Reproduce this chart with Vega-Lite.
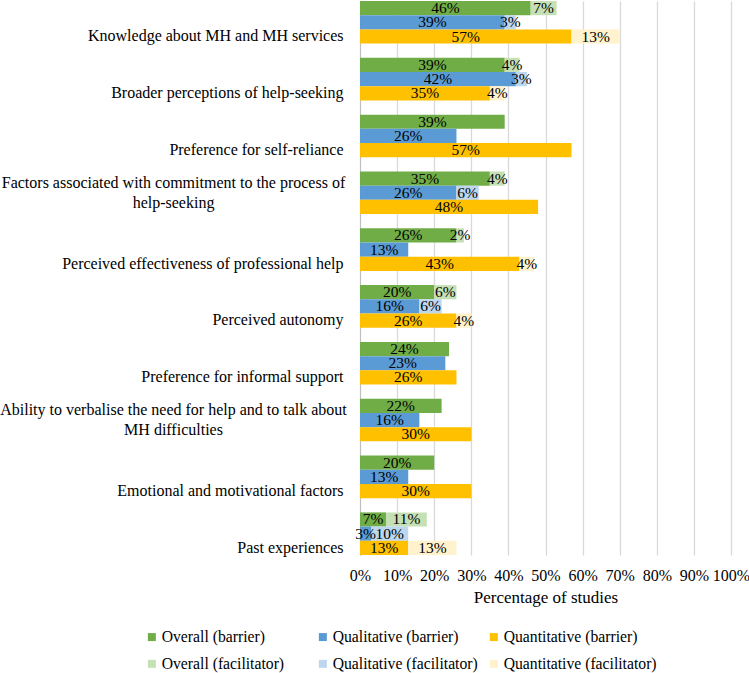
{
  "$schema": "https://vega.github.io/schema/vega-lite/v6.json",
  "width": 371,
  "height": 554,
  "autosize": {"type": "none"},
  "padding": {"left": 360, "top": 1, "right": 18, "bottom": 118},
  "background": "white",
  "config": {"view": {"stroke": null}},
  "data": {
    "values": [
      {"cat": "Knowledge about MH and MH services", "series": "Overall", "type": "barrier", "key": "Overall (barrier)", "value": 46},
      {"cat": "Knowledge about MH and MH services", "series": "Overall", "type": "facilitator", "key": "Overall (facilitator)", "value": 7},
      {"cat": "Knowledge about MH and MH services", "series": "Qualitative", "type": "barrier", "key": "Qualitative (barrier)", "value": 39},
      {"cat": "Knowledge about MH and MH services", "series": "Qualitative", "type": "facilitator", "key": "Qualitative (facilitator)", "value": 3},
      {"cat": "Knowledge about MH and MH services", "series": "Quantitative", "type": "barrier", "key": "Quantitative (barrier)", "value": 57},
      {"cat": "Knowledge about MH and MH services", "series": "Quantitative", "type": "facilitator", "key": "Quantitative (facilitator)", "value": 13},

      {"cat": "Broader perceptions of help-seeking", "series": "Overall", "type": "barrier", "key": "Overall (barrier)", "value": 39},
      {"cat": "Broader perceptions of help-seeking", "series": "Overall", "type": "facilitator", "key": "Overall (facilitator)", "value": 4},
      {"cat": "Broader perceptions of help-seeking", "series": "Qualitative", "type": "barrier", "key": "Qualitative (barrier)", "value": 42},
      {"cat": "Broader perceptions of help-seeking", "series": "Qualitative", "type": "facilitator", "key": "Qualitative (facilitator)", "value": 3},
      {"cat": "Broader perceptions of help-seeking", "series": "Quantitative", "type": "barrier", "key": "Quantitative (barrier)", "value": 35},
      {"cat": "Broader perceptions of help-seeking", "series": "Quantitative", "type": "facilitator", "key": "Quantitative (facilitator)", "value": 4},

      {"cat": "Preference for self-reliance", "series": "Overall", "type": "barrier", "key": "Overall (barrier)", "value": 39},
      {"cat": "Preference for self-reliance", "series": "Qualitative", "type": "barrier", "key": "Qualitative (barrier)", "value": 26},
      {"cat": "Preference for self-reliance", "series": "Quantitative", "type": "barrier", "key": "Quantitative (barrier)", "value": 57},

      {"cat": "Factors associated with commitment to the process of help-seeking", "series": "Overall", "type": "barrier", "key": "Overall (barrier)", "value": 35},
      {"cat": "Factors associated with commitment to the process of help-seeking", "series": "Overall", "type": "facilitator", "key": "Overall (facilitator)", "value": 4},
      {"cat": "Factors associated with commitment to the process of help-seeking", "series": "Qualitative", "type": "barrier", "key": "Qualitative (barrier)", "value": 26},
      {"cat": "Factors associated with commitment to the process of help-seeking", "series": "Qualitative", "type": "facilitator", "key": "Qualitative (facilitator)", "value": 6},
      {"cat": "Factors associated with commitment to the process of help-seeking", "series": "Quantitative", "type": "barrier", "key": "Quantitative (barrier)", "value": 48},

      {"cat": "Perceived effectiveness of professional help", "series": "Overall", "type": "barrier", "key": "Overall (barrier)", "value": 26},
      {"cat": "Perceived effectiveness of professional help", "series": "Overall", "type": "facilitator", "key": "Overall (facilitator)", "value": 2},
      {"cat": "Perceived effectiveness of professional help", "series": "Qualitative", "type": "barrier", "key": "Qualitative (barrier)", "value": 13},
      {"cat": "Perceived effectiveness of professional help", "series": "Quantitative", "type": "barrier", "key": "Quantitative (barrier)", "value": 43},
      {"cat": "Perceived effectiveness of professional help", "series": "Quantitative", "type": "facilitator", "key": "Quantitative (facilitator)", "value": 4},

      {"cat": "Perceived autonomy", "series": "Overall", "type": "barrier", "key": "Overall (barrier)", "value": 20},
      {"cat": "Perceived autonomy", "series": "Overall", "type": "facilitator", "key": "Overall (facilitator)", "value": 6},
      {"cat": "Perceived autonomy", "series": "Qualitative", "type": "barrier", "key": "Qualitative (barrier)", "value": 16},
      {"cat": "Perceived autonomy", "series": "Qualitative", "type": "facilitator", "key": "Qualitative (facilitator)", "value": 6},
      {"cat": "Perceived autonomy", "series": "Quantitative", "type": "barrier", "key": "Quantitative (barrier)", "value": 26},
      {"cat": "Perceived autonomy", "series": "Quantitative", "type": "facilitator", "key": "Quantitative (facilitator)", "value": 4},

      {"cat": "Preference for informal support", "series": "Overall", "type": "barrier", "key": "Overall (barrier)", "value": 24},
      {"cat": "Preference for informal support", "series": "Qualitative", "type": "barrier", "key": "Qualitative (barrier)", "value": 23},
      {"cat": "Preference for informal support", "series": "Quantitative", "type": "barrier", "key": "Quantitative (barrier)", "value": 26},

      {"cat": "Ability to verbalise the need for help and to talk about MH difficulties", "series": "Overall", "type": "barrier", "key": "Overall (barrier)", "value": 22},
      {"cat": "Ability to verbalise the need for help and to talk about MH difficulties", "series": "Qualitative", "type": "barrier", "key": "Qualitative (barrier)", "value": 16},
      {"cat": "Ability to verbalise the need for help and to talk about MH difficulties", "series": "Quantitative", "type": "barrier", "key": "Quantitative (barrier)", "value": 30},

      {"cat": "Emotional and motivational factors", "series": "Overall", "type": "barrier", "key": "Overall (barrier)", "value": 20},
      {"cat": "Emotional and motivational factors", "series": "Qualitative", "type": "barrier", "key": "Qualitative (barrier)", "value": 13},
      {"cat": "Emotional and motivational factors", "series": "Quantitative", "type": "barrier", "key": "Quantitative (barrier)", "value": 30},

      {"cat": "Past experiences", "series": "Overall", "type": "barrier", "key": "Overall (barrier)", "value": 7},
      {"cat": "Past experiences", "series": "Overall", "type": "facilitator", "key": "Overall (facilitator)", "value": 11},
      {"cat": "Past experiences", "series": "Qualitative", "type": "barrier", "key": "Qualitative (barrier)", "value": 3},
      {"cat": "Past experiences", "series": "Qualitative", "type": "facilitator", "key": "Qualitative (facilitator)", "value": 10},
      {"cat": "Past experiences", "series": "Quantitative", "type": "barrier", "key": "Quantitative (barrier)", "value": 13},
      {"cat": "Past experiences", "series": "Quantitative", "type": "facilitator", "key": "Quantitative (facilitator)", "value": 13}
    ]
  },
  "transform": [
    {"stack": "value", "groupby": ["cat", "series"], "sort": [{"field": "type", "order": "ascending"}], "as": ["v0", "v1"]},
    {"calculate": "(datum.v0 + datum.v1) / 2", "as": "mid"},
    {"calculate": "datum.value + '%'", "as": "lbl"}
  ],
  "encoding": {
    "y": {
      "field": "cat",
      "type": "nominal",
      "sort": [
        "Knowledge about MH and MH services",
        "Broader perceptions of help-seeking",
        "Preference for self-reliance",
        "Factors associated with commitment to the process of help-seeking",
        "Perceived effectiveness of professional help",
        "Perceived autonomy",
        "Preference for informal support",
        "Ability to verbalise the need for help and to talk about MH difficulties",
        "Emotional and motivational factors",
        "Past experiences"
      ],
      "scale": {"paddingInner": 0.25, "paddingOuter": 0},
      "axis": {
        "title": null,
        "ticks": false,
        "domain": true,
        "domainColor": "#BFBFBF",
        "labelFont": "Liberation Serif",
        "labelFontSize": 16,
        "labelColor": "#000000",
        "labelLimit": 400,
        "labelLineHeight": 20,
        "labelBaseline": "middle",
        "labelExpr": "indexof(datum.label, 'Factors') == 0 ? ['Factors associated with commitment to the process of', 'help-seeking'] : indexof(datum.label, 'Ability') == 0 ? ['Ability to verbalise the need for help and to talk about', 'MH difficulties'] : datum.label",
        "labelAlign": {"condition": {"test": "indexof(datum.value, 'Factors') == 0 || indexof(datum.value, 'Ability') == 0", "value": "center"}, "value": "right"},
        "labelPadding": {"condition": {"test": "indexof(datum.value, 'Factors') == 0 || indexof(datum.value, 'Ability') == 0", "value": 187}, "value": 17},
        "labelOffset": {"condition": {"test": "indexof(datum.value, 'Factors') == 0 || indexof(datum.value, 'Ability') == 0", "value": -10}, "value": 14}
      }
    },
    "yOffset": {
      "field": "series",
      "type": "nominal",
      "sort": ["Overall", "Qualitative", "Quantitative"],
      "scale": {"paddingInner": 0, "paddingOuter": 0}
    }
  },
  "layer": [
    {
      "mark": {"type": "bar"},
      "encoding": {
        "x": {
          "field": "v0",
          "type": "quantitative",
          "scale": {"domain": [0, 100]},
          "axis": {
            "title": "Percentage of studies",
            "titleFont": "Liberation Serif",
            "titleFontSize": 17,
            "titleFontWeight": "normal",
            "titleColor": "#000000",
            "titlePadding": 6,
            "values": [0, 10, 20, 30, 40, 50, 60, 70, 80, 90, 100],
            "labelExpr": "datum.value + '%'",
            "labelOverlap": false,
            "labelFlush": false,
            "labelFont": "Liberation Serif",
            "labelFontSize": 16,
            "labelColor": "#000000",
            "labelPadding": 12,
            "domain": false,
            "ticks": false,
            "grid": true,
            "gridColor": "#D9D9D9",
            "gridWidth": 1.3
          }
        },
        "x2": {"field": "v1"},
        "color": {
          "field": "key",
          "type": "nominal",
          "scale": {
            "domain": ["Overall (barrier)", "Qualitative (barrier)", "Quantitative (barrier)", "Overall (facilitator)", "Qualitative (facilitator)", "Quantitative (facilitator)"],
            "range": ["#70AD47", "#5B9BD5", "#FFC000", "#C5E0B4", "#BDD7EE", "#FFF2CC"]
          },
          "legend": {
            "title": null,
            "orient": "none",
            "legendX": -216,
            "legendY": 628,
            "direction": "horizontal",
            "columns": 3,
            "gridAlign": "all",
            "columnPadding": 0,
            "rowPadding": 10,
            "symbolType": "square",
            "symbolSize": 64,
            "symbolStrokeWidth": 0,
            "labelFont": "Liberation Serif",
            "labelFontSize": 15.7,
            "labelColor": "#000000",
            "labelOffset": 2,
            "labelLimit": 300
          }
        }
      }
    },
    {
      "transform": [{"filter": "datum.value > 0"}],
      "mark": {"type": "text", "font": "Liberation Serif", "fontSize": 15.5, "color": "#000000", "align": "center", "baseline": "middle"},
      "encoding": {
        "x": {
          "field": "mid",
          "type": "quantitative",
          "scale": {"domain": [0, 100]},
          "axis": {
            "title": "Percentage of studies",
            "titleFont": "Liberation Serif",
            "titleFontSize": 17,
            "titleFontWeight": "normal",
            "titleColor": "#000000",
            "titlePadding": 6,
            "values": [0, 10, 20, 30, 40, 50, 60, 70, 80, 90, 100],
            "labelExpr": "datum.value + '%'",
            "labelOverlap": false,
            "labelFlush": false,
            "labelFont": "Liberation Serif",
            "labelFontSize": 16,
            "labelColor": "#000000",
            "labelPadding": 12,
            "domain": false,
            "ticks": false,
            "grid": true,
            "gridColor": "#D9D9D9",
            "gridWidth": 1.3
          }
        },
        "text": {"field": "lbl", "type": "nominal"}
      }
    }
  ]
}
